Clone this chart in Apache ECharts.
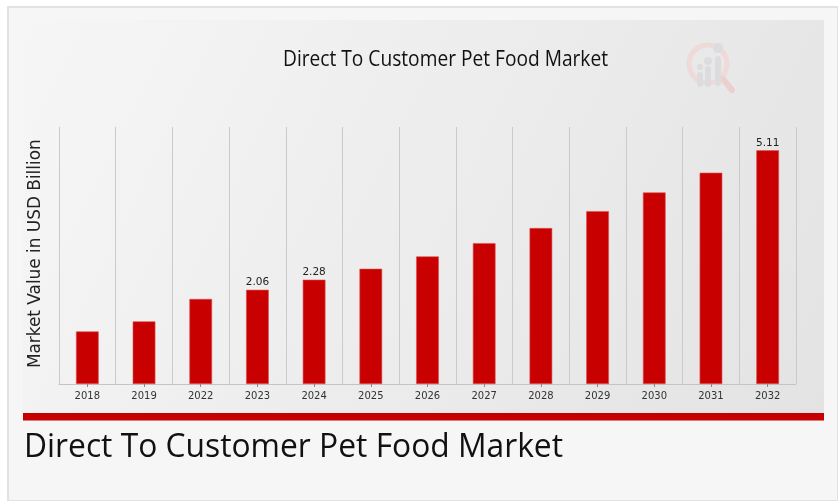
<!DOCTYPE html>
<html>
<head>
<meta charset="utf-8">
<script src="https://cdn.jsdelivr.net/npm/echarts@6/dist/echarts.min.js"></script>
<style>
html,body{margin:0;padding:0;background:#ffffff;}
#chart{width:838px;height:501px;}
</style>
</head>
<body>
<div id="chart"></div>
<script>
const titleText = 'Direct To Customer Pet Food Market';
const yAxisName = 'Market Value in USD Billion';
const categories = ['2018','2019','2022','2023','2024','2025','2026','2027','2028','2029','2030','2031','2032'];
const values = [1.15, 1.37, 1.86, 2.06, 2.28, 2.52, 2.79, 3.08, 3.41, 3.78, 4.19, 4.62, 5.11];
const labeledYears = ['2023','2024','2032'];

function measure(text, font){
  const c = document.createElement('canvas').getContext('2d');
  c.font = font;
  return c.measureText(text).width;
}
const topFont = '21px "Open Sans"';
const botFont = '32px "Open Sans"';
const topScale = 325 / measure(titleText, topFont);
const botScale = 539 / measure(titleText, botFont);

const chart = echarts.init(document.getElementById('chart'), null, {renderer:'canvas'});
const option = {
  animation: false,
  backgroundColor: '#ffffff',
  graphic: [
    {type:'rect', z:-10, shape:{x:8, y:7, width:830, height:494}, style:{fill:'#f6f6f6', stroke:'#e2e2e2', lineWidth:2}},
    {type:'rect', z:-9, shape:{x:23, y:20, width:801, height:393},
      style:{fill:new echarts.graphic.LinearGradient(0,0,1,1,[{offset:0,color:'#f6f6f6'},{offset:1,color:'#e3e3e3'}])}},
    {type:'rect', z:-8, shape:{x:23, y:413, width:801, height:7.5}, style:{fill:'#c40000'}},
    // watermark logo
    {type:'circle', z:-7, shape:{cx:708, cy:64, r:19}, style:{fill:'none', stroke:'#efd9d9', lineWidth:5}},
    {type:'line', z:-7, shape:{x1:723, y1:79, x2:732, y2:90}, style:{stroke:'#ecd0d0', lineWidth:6, lineCap:'round'}},
    {type:'rect', z:-6, shape:{x:697, y:72, width:6, height:15, r:3}, style:{fill:'#dcdcdf'}},
    {type:'rect', z:-6, shape:{x:705, y:66, width:6, height:21, r:3}, style:{fill:'#dcdcdf'}},
    {type:'rect', z:-6, shape:{x:715, y:56, width:6, height:30, r:3}, style:{fill:'#dcdcdf'}},
    {type:'circle', z:-6, shape:{cx:700, cy:67, r:3}, style:{fill:'#dcdcdf'}},
    {type:'circle', z:-6, shape:{cx:708, cy:61, r:4}, style:{fill:'#dcdcdf'}},
    {type:'circle', z:-6, shape:{cx:718, cy:48, r:5}, style:{fill:'#dcdcdf'}},
    {type:'text', x:445.5, y:60.4, scaleX:topScale, style:{text:titleText, x:0, y:0, font:topFont, fill:'#111111', textAlign:'center', textVerticalAlign:'middle'}},
    {type:'text', x:24, y:447.7, scaleX:botScale, style:{text:titleText, x:0, y:0, font:botFont, fill:'#111111', textAlign:'left', textVerticalAlign:'middle'}},
    {type:'text', x:35.5, y:253.7, rotation:Math.PI/2, style:{text:yAxisName, x:0, y:0, font:'16.9px "DejaVu Sans"', fill:'#222222', textAlign:'center', textVerticalAlign:'middle'}}
  ],
  grid: {left:59, right:42, top:127, bottom:117, containLabel:false},
  xAxis: {
    type:'category',
    data: categories,
    boundaryGap: true,
    axisLine: {show:true, lineStyle:{color:'#c4c4c4', width:1}},
    axisTick: {show:true, alignWithLabel:true, length:3, lineStyle:{color:'#888888'}},
    axisLabel: {color:'#333333', fontFamily:'DejaVu Sans', fontSize:10, margin:7},
    splitLine: {show:true, lineStyle:{color:'#cacaca', width:1}}
  },
  yAxis: {
    type:'value',
    min:0,
    max:5.62,
    axisLine:{show:false},
    axisTick:{show:false},
    axisLabel:{show:false},
    splitLine:{show:false}
  },
  series: [{
    type:'bar',
    data: values.map((v,i)=>({
      value:v,
      label:{show: labeledYears.includes(categories[i])}
    })),
    barWidth:'40%',
    itemStyle:{color:'#c80000', borderColor:'#dd5050', borderWidth:0.6},
    label:{position:'top', distance:2, color:'#222222', fontFamily:'DejaVu Sans', fontSize:10.5,
      formatter:(p)=>p.value.toFixed(2)}
  }]
};
chart.setOption(option);
</script>
</body>
</html>
